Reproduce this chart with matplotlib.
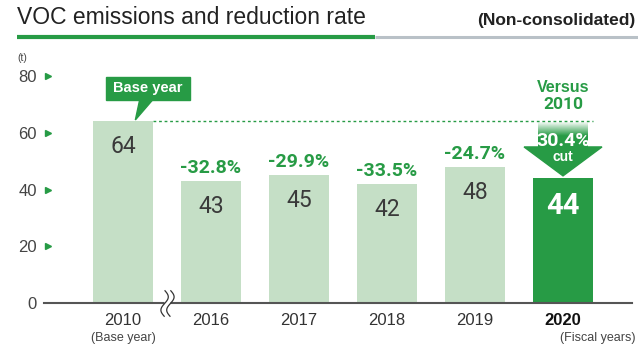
import numpy as np
import matplotlib
matplotlib.use("Agg")
import matplotlib.pyplot as plt
from matplotlib.patches import Rectangle, Polygon
from matplotlib.path import Path

# data
years = ["2010", "2016", "2017", "2018", "2019", "2020"]
emissions = [64, 43, 45, 42, 48, 44]
reduction = ["", "-32.8%", "-29.9%", "-33.5%", "-24.7%", ""]
cut_label = "30.4%"
y_ticks = [0, 20, 40, 60, 80]

GREEN = "#279b45"
LIGHT = "#c5dfc6"
TXT = "#333333"

plt.rcParams["font.family"] = ["Liberation Sans", "DejaVu Sans"]

fig = plt.figure(figsize=(6.38, 3.45), dpi=100)
ax = fig.add_axes([44 / 638, 42 / 345, 588 / 638, 227 / 345])

x = np.arange(len(years))
colors = [LIGHT] * (len(years) - 1) + [GREEN]
ax.bar(x, emissions, width=0.68, color=colors, zorder=2)

ax.set_xlim(-0.898, 5.784)
ax.set_ylim(0, 80)

for s in ["top", "right", "left"]:
    ax.spines[s].set_visible(False)
ax.spines["bottom"].set_color("#555555")
ax.spines["bottom"].set_linewidth(1.5)
ax.spines["bottom"].set_zorder(3)

ax.set_yticks(y_ticks)
ax.set_yticklabels([str(t) for t in y_ticks], fontsize=12, color="#444444")
ax.tick_params(axis="y", length=0, pad=5)
ax.set_xticks(x)
ax.set_xticklabels(years, fontsize=12, color=TXT)
ax.get_xticklabels()[-1].set_fontweight("bold")
ax.get_xticklabels()[-1].set_color("#111111")
ax.tick_params(axis="x", length=0, pad=7)

# little green arrows next to tick labels
ytr = ax.get_yaxis_transform()
ax.plot([0.006] * 4, y_ticks[1:], ls="none", marker=">", ms=4.5, color=GREEN,
        transform=ytr, clip_on=False)

# axis break mark: white gap plus two wavy strokes
t = np.linspace(-1, 1, 30)
wx = 0.28 * np.sin(np.pi * t)
verts = np.concatenate([np.column_stack([wx - 0.22, t]), np.column_stack([wx + 0.22, t])])
codes = ([Path.MOVETO] + [Path.LINETO] * 29) * 2
wave = Path(verts, codes)
ax.plot(0.5, 0, marker="s", ms=5, mfc="white", mec="none", zorder=4, clip_on=False)
ax.plot(0.5, 0, marker=wave, ms=19, mfc="none", mec="#333333", mew=0.9, zorder=5,
        clip_on=False)

# dotted line at base year level
ax.plot([0.34, 5.34], [emissions[0], emissions[0]], ls=(0, (2, 2)), lw=1,
        color=GREEN, zorder=1)

# value labels
for i, v in enumerate(emissions[:-1]):
    ax.annotate(str(v), (i, v), xytext=(0, -10), textcoords="offset points",
                ha="center", va="top", fontsize=16.5, color="#3a3a3a",
                family=["Roboto", "DejaVu Sans"], fontweight="normal", zorder=4)
ax.annotate(str(emissions[-1]), (5, emissions[-1]), xytext=(0, -10),
            textcoords="offset points", ha="center", va="top", fontsize=21,
            color="white", fontweight="bold", family=["Roboto", "DejaVu Sans"],
            zorder=4)

for i, r in enumerate(reduction):
    if r:
        ax.annotate(r, (i, emissions[i]), xytext=(0, 3), textcoords="offset points",
                    ha="center", va="bottom", fontsize=14, color=GREEN,
                    fontweight="bold", family=["Roboto", "DejaVu Sans"])

# base year callout
ax.add_patch(Rectangle((-0.19, 71.6), 0.95, 8.0, color=GREEN, clip_on=False, zorder=4))
ax.add_patch(Polygon([[0.19, 71.7], [0.34, 71.7], [0.14, emissions[0] + 0.5]],
                     closed=True, color=GREEN, clip_on=False, zorder=4))
ax.text(0.285, 75.6, "Base year", ha="center", va="center", color="white",
        fontsize=10.5, fontweight="bold", zorder=5)

# versus 2010 arrow
ax.text(5, 76.1, "Versus", ha="center", va="center", color=GREEN, fontsize=11.5,
        fontweight="bold")
ax.text(5, 69.8, "2010", ha="center", va="center", color=GREEN, fontsize=12.5,
        fontweight="bold", family=["Roboto", "DejaVu Sans"])

grad = np.zeros((50, 2, 4))
g = matplotlib.colors.to_rgb(GREEN)
grad[..., 0], grad[..., 1], grad[..., 2] = g
grad[..., 3] = np.clip(np.linspace(0.05, 1.8, 50), 0, 1)[:, None]
ax.imshow(grad, extent=(4.716, 5.284, 55.0, emissions[0] - 0.4), origin="upper",
          aspect="auto", zorder=3, interpolation="bilinear")
ax.add_patch(Polygon([[4.557, 55.0], [5.443, 55.0], [5, emissions[-1] + 0.8]],
                     closed=True, color=GREEN, zorder=3))
ax.text(5, 57.2, cut_label, ha="center", va="center", color="white", fontsize=14,
        fontweight="bold", family=["Roboto", "DejaVu Sans"], zorder=5)
ax.text(5, 51.3, "cut", ha="center", va="center", color="white", fontsize=10,
        fontweight="bold", zorder=5)
ax.set_xlim(-0.898, 5.784)
ax.set_ylim(0, 80)

# header
fig.text(17 / 638, 1 - 17 / 345, "VOC emissions and reduction rate", fontsize=16.5,
         color="#222222", va="center", ha="left")
fig.text(635 / 638, 1 - 21 / 345, "(Non-consolidated)", fontsize=12.5,
         color="#222222", va="center", ha="right", fontweight="bold")
fig.add_artist(plt.Line2D([17 / 638, 375 / 638], [1 - 37 / 345] * 2, color=GREEN,
                          lw=3, solid_capstyle="butt"))
fig.add_artist(plt.Line2D([375 / 638, 1], [1 - 37 / 345] * 2, color="#b9c1c7",
                          lw=2.2, solid_capstyle="butt"))
fig.text(17 / 638, 1 - 58 / 345, "(t)", fontsize=7.5, color="#444444", va="center")
fig.text(123 / 638, 1 - 338 / 345, "(Base year)", fontsize=9, color="#444444",
         va="center", ha="center")
fig.text(635 / 638, 1 - 338 / 345, "(Fiscal years)", fontsize=9, color="#444444",
         va="center", ha="right")

fig.savefig("out.png", dpi=100)
